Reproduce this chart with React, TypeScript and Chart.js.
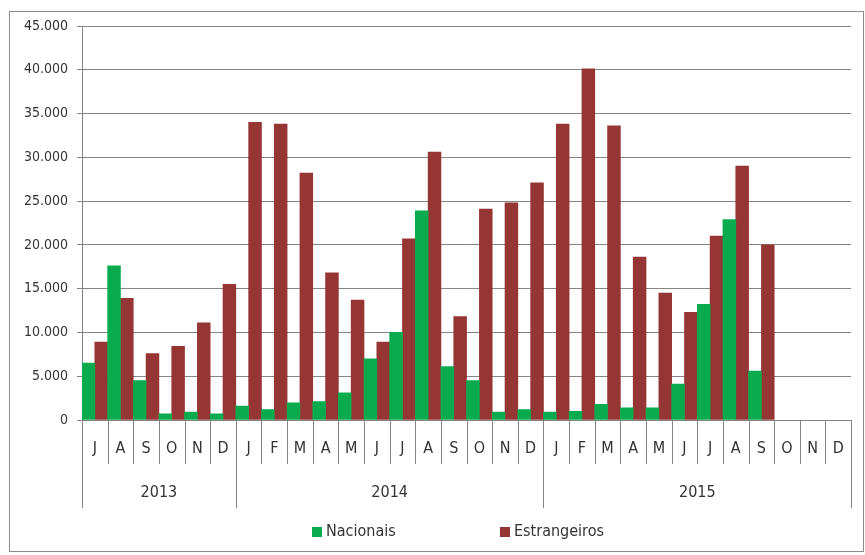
import React, { useEffect, useRef } from "react";
import { Chart, registerables } from "chart.js";

Chart.register(...registerables);

const monthLabels = [
  "J", "A", "S", "O", "N", "D",
  "J", "F", "M", "A", "M", "J", "J", "A", "S", "O", "N", "D",
  "J", "F", "M", "A", "M", "J", "J", "A", "S", "O", "N", "D",
];
const yearLabels = ["2013", "2014", "2015"];
const yearMonthCounts = [6, 12, 12];

const nacionais = [
  6500, 17600, 4500, 700, 900, 700,
  1600, 1200, 1950, 2100, 3100, 7000, 10000, 23900, 6100, 4500, 900, 1200,
  900, 1000, 1800, 1400, 1400, 4100, 13200, 22900, 5600, null, null, null,
];
const estrangeiros = [
  8900, 13900, 7600, 8400, 11100, 15500,
  34000, 33800, 28200, 16800, 13700, 8900, 20700, 30600, 11800, 24100, 24800, 27100,
  33800, 40100, 33600, 18600, 14500, 12300, 21000, 29000, 20000, null, null, null,
];
const seriesNames = ["Nacionais", "Estrangeiros"];
const seriesColors = ["#0aab4e", "#963634"];

const FONT = "'Liberation Sans Narrow', 'DejaVu Sans Condensed', 'Open Sans', sans-serif";
const TEXT = "#333333";
const GRID = "#858585";

const yearCenters: number[] = [];
const yearBoundaries: number[] = [0];
{
  let start = 0;
  yearMonthCounts.forEach((c) => {
    yearCenters.push(start + c / 2 - 0.5);
    start += c;
    yearBoundaries.push(start);
  });
}

const fmt = (v: number) => String(v).replace(/\B(?=(\d{3})+(?!\d))/g, ".");

const separatorPlugin = {
  id: "separators",
  afterDraw(chart: any) {
    const x = chart.scales.x;
    const x2 = chart.scales.x2;
    const ctx = chart.ctx;
    const n = monthLabels.length;
    const edge = (i: number) =>
      i === 0 ? x.left : i === n ? x.right : (x.getPixelForValue(i - 1) + x.getPixelForValue(i)) / 2;
    ctx.save();
    ctx.strokeStyle = GRID;
    ctx.lineWidth = 1;
    for (let i = 0; i <= n; i++) {
      const px = Math.round(edge(i)) + 0.5;
      const y1 = yearBoundaries.includes(i) ? x2.bottom : x.bottom;
      ctx.beginPath();
      ctx.moveTo(px, x.top);
      ctx.lineTo(px, y1);
      ctx.stroke();
    }
    ctx.restore();
  },
};

const legendPlugin = {
  id: "customLegend",
  afterDraw(chart: any) {
    const ctx = chart.ctx;
    const xs = [302, 490];
    const yc = 520;
    ctx.save();
    ctx.font = `16px ${FONT}`;
    ctx.textBaseline = "middle";
    ctx.textAlign = "left";
    chart.data.datasets.forEach((ds: any, i: number) => {
      ctx.fillStyle = ds.backgroundColor;
      ctx.fillRect(xs[i], yc - 5, 10, 10);
      ctx.fillStyle = TEXT;
      ctx.fillText(ds.label, xs[i] + 14, yc);
    });
    ctx.restore();
  },
};

export default function App() {
  const ref = useRef<HTMLCanvasElement | null>(null);
  useEffect(() => {
    if (!ref.current) return;
    const chart = new Chart(ref.current, {
      type: "bar",
      data: {
        labels: monthLabels,
        datasets: [
          {
            label: seriesNames[0],
            data: nacionais,
            backgroundColor: seriesColors[0],
            xAxisID: "x",
            yAxisID: "y",
            categoryPercentage: 1,
            barPercentage: 1,
          },
          {
            label: seriesNames[1],
            data: estrangeiros,
            backgroundColor: seriesColors[1],
            xAxisID: "x",
            yAxisID: "y",
            categoryPercentage: 1,
            barPercentage: 1,
          },
        ],
      },
      options: {
        animation: false,
        responsive: true,
        maintainAspectRatio: false,
        layout: { padding: { left: 0, right: 9, top: 14, bottom: 43 } },
        plugins: { legend: { display: false }, tooltip: { enabled: false } },
        scales: {
          y: {
            min: 0,
            max: 45000,
            ticks: {
              stepSize: 5000,
              padding: 9,
              color: TEXT,
              font: { family: FONT, size: 14 },
              callback: (v: any) => fmt(Number(v)),
            },
            grid: { color: GRID, tickLength: 5, drawTicks: true },
            border: { display: true, color: GRID },
            afterFit: (s: any) => {
              s.width = 72;
              s.paddingTop = 0;
              s.paddingBottom = 0;
            },
          },
          x: {
            type: "category",
            position: "bottom",
            weight: 0,
            offset: true,
            grid: { display: false, drawTicks: false },
            border: { display: false },
            ticks: {
              autoSkip: false,
              maxRotation: 0,
              padding: 19,
              color: TEXT,
              font: { family: FONT, size: 16 },
            },
            afterFit: (s: any) => {
              s.height = 44;
            },
          },
          x2: {
            type: "linear",
            position: "bottom",
            weight: 1,
            min: -0.5,
            max: monthLabels.length - 0.5,
            offset: false,
            grid: { display: false, drawTicks: false },
            border: { display: false },
            afterBuildTicks: (s: any) => {
              s.ticks = yearCenters.map((value) => ({ value }));
            },
            ticks: {
              autoSkip: false,
              maxRotation: 0,
              padding: 19,
              color: TEXT,
              font: { family: FONT, size: 16 },
              callback: (_v: any, i: number) => yearLabels[i],
            },
            afterFit: (s: any) => {
              s.height = 44;
            },
          },
        },
      },
      plugins: [separatorPlugin, legendPlugin],
    });
    return () => chart.destroy();
  }, []);

  return (
    <div
      style={{
        position: "absolute",
        left: 9,
        top: 11,
        width: 855,
        height: 541,
        border: "1px solid #8c8c8c",
        boxSizing: "border-box",
        background: "#fff",
      }}
    >
      <div style={{ position: "relative", width: 853, height: 539 }}>
        <canvas ref={ref} />
      </div>
    </div>
  );
}
